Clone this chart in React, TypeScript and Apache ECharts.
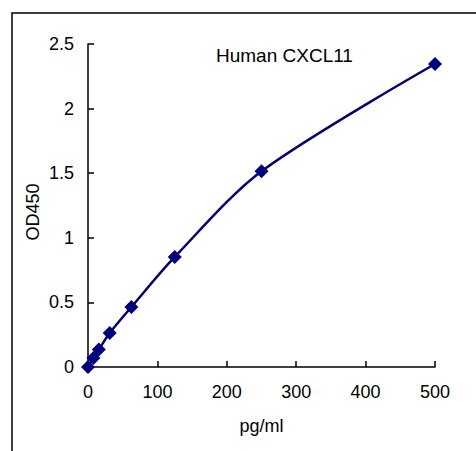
import React, { useEffect, useRef } from "react";
import * as echarts from "echarts";

const concentrations = [0, 7.8, 15.6, 31.25, 62.5, 125, 250, 500];
const odValues = [0.0, 0.07, 0.135, 0.263, 0.464, 0.852, 1.515, 2.345];
const xTicks = [0, 100, 200, 300, 400, 500];
const yTicks = [0, 0.5, 1, 1.5, 2, 2.5];

export default function App() {
  const ref = useRef<HTMLDivElement>(null);
  useEffect(() => {
    if (!ref.current) return;
    const chart = echarts.init(ref.current, null, { renderer: "svg" });
    const font = "'Liberation Sans', Arial, sans-serif";
    chart.setOption({
      animation: false,
      backgroundColor: "#ffffff",
      textStyle: { fontFamily: font },
      graphic: [
        {
          type: "rect",
          shape: { x: 12, y: 13, width: 480, height: 460 },
          style: { fill: "none", stroke: "#000", lineWidth: 1.5 },
          silent: true,
        },
        {
          type: "text",
          left: 216,
          top: 46,
          style: { text: "Human CXCL11", fontSize: 19, fill: "#000", fontFamily: font },
        },
        {
          type: "text",
          x: 33,
          y: 212,
          rotation: Math.PI / 2,
          style: {
            text: "OD450",
            fontSize: 18,
            fill: "#000",
            fontFamily: font,
            align: "center",
            verticalAlign: "middle",
          },
        },
      ],
      grid: { left: 88, right: 41, top: 44, bottom: 84, containLabel: false },
      xAxis: {
        type: "value",
        min: xTicks[0],
        max: xTicks[xTicks.length - 1],
        interval: 100,
        name: "pg/ml",
        nameLocation: "middle",
        nameGap: 50,
        nameTextStyle: { fontSize: 18, color: "#000", fontFamily: font },
        axisLine: { show: true, onZero: false, lineStyle: { color: "#000", width: 1.5 } },
        axisTick: { show: true, inside: true, length: 6, lineStyle: { color: "#000", width: 1.5 } },
        axisLabel: { fontSize: 18, color: "#000", margin: 16, fontFamily: font },
        splitLine: { show: false },
      },
      yAxis: {
        type: "value",
        min: yTicks[0],
        max: yTicks[yTicks.length - 1],
        interval: 0.5,
        axisLine: { show: true, lineStyle: { color: "#000", width: 1.5 } },
        axisTick: { show: true, inside: true, length: 6, lineStyle: { color: "#000", width: 1.5 } },
        axisLabel: { fontSize: 18, color: "#000", margin: 14, fontFamily: font },
        splitLine: { show: false },
      },
      series: [
        {
          type: "line",
          data: concentrations.map((c, i) => [c, odValues[i]]),
          smooth: 0.3,
          symbol: "diamond",
          symbolSize: 14,
          lineStyle: { color: "#000080", width: 2.5 },
          itemStyle: { color: "#000080" },
        },
      ],
    });
    return () => chart.dispose();
  }, []);
  return (
    <div
      ref={ref}
      style={{ position: "absolute", left: 0, top: 0, width: 476, height: 451 }}
    />
  );
}
